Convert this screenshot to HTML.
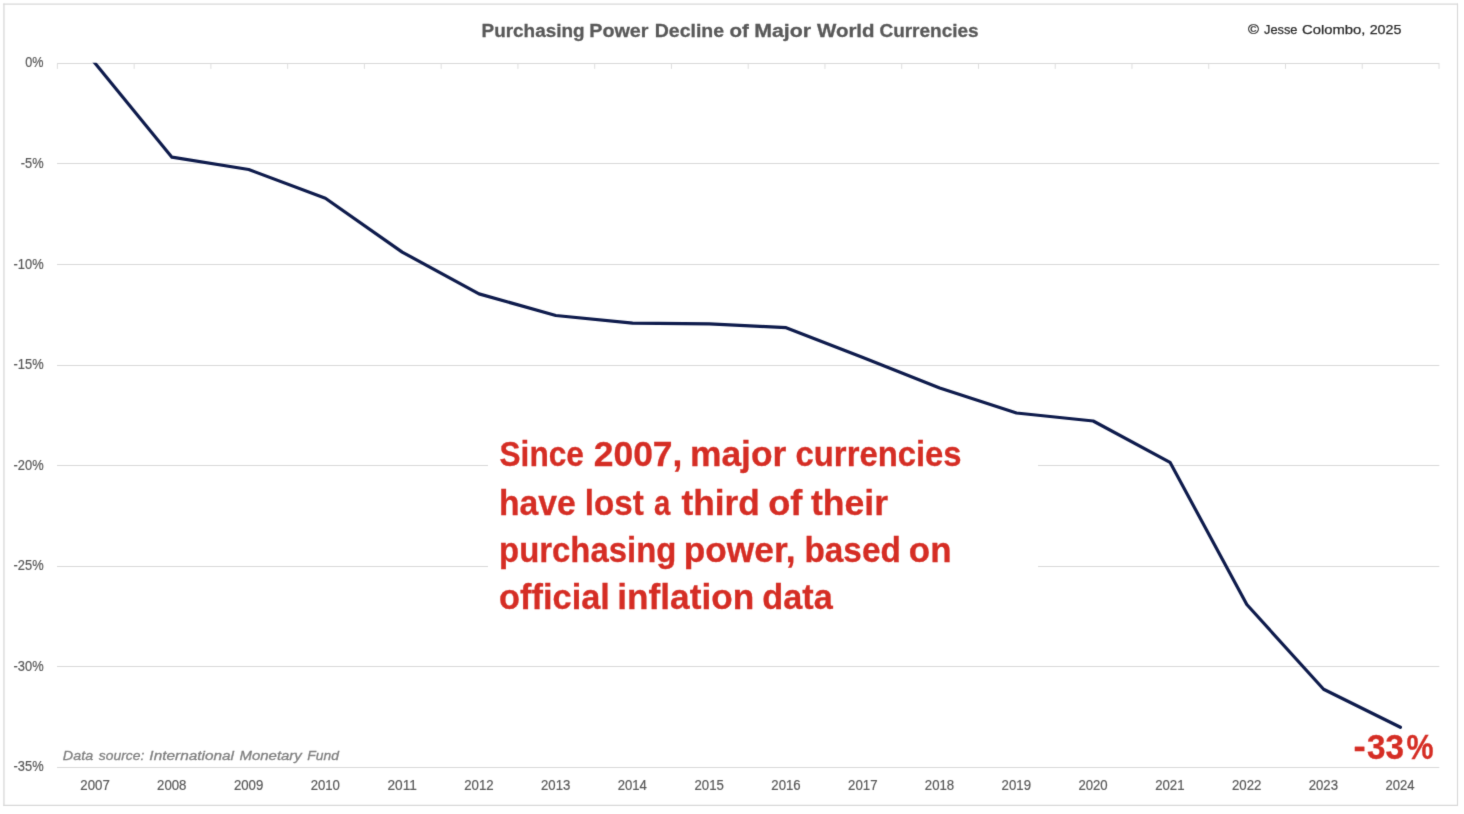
<!DOCTYPE html>
<html lang="en">
<head>
<meta charset="utf-8">
<title>Purchasing Power Decline of Major World Currencies</title>
<style>
html,body{margin:0;padding:0;background:#fff;}
body{width:1464px;height:814px;overflow:hidden;}
svg{display:block;}
text{font-family:"Liberation Sans",sans-serif;}
.ax{fill:#595959;stroke:#595959;stroke-width:0.2px;font-size:13.8px;}
.title{fill:#595959;stroke:#595959;stroke-width:0.3px;font-weight:bold;font-size:19.1px;}
.copy{fill:#2b2b2b;stroke:#2b2b2b;stroke-width:0.25px;font-size:13.1px;}
.src{fill:#7f7f7f;stroke:#7f7f7f;stroke-width:0.3px;font-style:italic;font-size:13.6px;}
.ann{fill:#d52d24;stroke:#d52d24;stroke-width:0.3px;font-weight:bold;font-size:34.5px;}
.end{fill:#d52d24;stroke:#d52d24;stroke-width:0.3px;font-weight:bold;font-size:34.8px;}
</style>
</head>
<body>
<svg width="1464" height="814" viewBox="0 0 1464 814" role="img" aria-label="Purchasing Power Decline of Major World Currencies">
<defs>
<filter id="soft" x="0" y="0" width="1464" height="814" filterUnits="userSpaceOnUse" color-interpolation-filters="sRGB">
<feConvolveMatrix order="3" kernelMatrix="0.0121 0.0858 0.0121 0.0858 0.6084 0.0858 0.0121 0.0858 0.0121" divisor="1" edgeMode="duplicate" preserveAlpha="true"/>
</filter>
</defs>
<g filter="url(#soft)">
<rect x="0" y="0" width="1464" height="814" fill="#ffffff"/>
<g stroke="#d8d8d8" fill="none">
<line x1="3.3" y1="4.05" x2="1458" y2="4.05" stroke-width="1.3"/>
<line x1="3.95" y1="3.4" x2="3.95" y2="805.9" stroke-width="1.3"/>
<line x1="1457.5" y1="3.4" x2="1457.5" y2="805.9" stroke-width="1.1"/>
<line x1="3.3" y1="805.4" x2="1458" y2="805.4" stroke-width="1.1"/>
</g>
<g stroke="#d9d9d9" stroke-width="1" fill="none">
<line x1="57" y1="63.5" x2="1439.3" y2="63.5"/>
<line x1="57" y1="163.5" x2="1439.3" y2="163.5"/>
<line x1="57" y1="264.5" x2="1439.3" y2="264.5"/>
<line x1="57" y1="365.5" x2="1439.3" y2="365.5"/>
<line x1="57" y1="465.5" x2="1439.3" y2="465.5"/>
<line x1="57" y1="566.5" x2="1439.3" y2="566.5"/>
<line x1="57" y1="666.5" x2="1439.3" y2="666.5"/>
<line x1="57" y1="767.5" x2="1439.3" y2="767.5"/>
</g>
<g stroke="#dedede" stroke-width="1" fill="none">
<line x1="57.40" y1="63.5" x2="57.40" y2="68.9"/>
<line x1="134.16" y1="63.5" x2="134.16" y2="68.9"/>
<line x1="210.91" y1="63.5" x2="210.91" y2="68.9"/>
<line x1="287.67" y1="63.5" x2="287.67" y2="68.9"/>
<line x1="364.42" y1="63.5" x2="364.42" y2="68.9"/>
<line x1="441.18" y1="63.5" x2="441.18" y2="68.9"/>
<line x1="517.93" y1="63.5" x2="517.93" y2="68.9"/>
<line x1="594.69" y1="63.5" x2="594.69" y2="68.9"/>
<line x1="671.44" y1="63.5" x2="671.44" y2="68.9"/>
<line x1="748.20" y1="63.5" x2="748.20" y2="68.9"/>
<line x1="824.96" y1="63.5" x2="824.96" y2="68.9"/>
<line x1="901.71" y1="63.5" x2="901.71" y2="68.9"/>
<line x1="978.47" y1="63.5" x2="978.47" y2="68.9"/>
<line x1="1055.22" y1="63.5" x2="1055.22" y2="68.9"/>
<line x1="1131.98" y1="63.5" x2="1131.98" y2="68.9"/>
<line x1="1208.73" y1="63.5" x2="1208.73" y2="68.9"/>
<line x1="1285.49" y1="63.5" x2="1285.49" y2="68.9"/>
<line x1="1362.24" y1="63.5" x2="1362.24" y2="68.9"/>
<line x1="1439.00" y1="63.5" x2="1439.00" y2="68.9"/>
</g>
<clipPath id="plot"><rect x="57" y="62.8" width="1383" height="705"/></clipPath>
<polyline clip-path="url(#plot)" points="91.8,59.3 95.1,63.3 171.9,157.2 248.7,169.5 325.4,198.3 402.2,252.1 479.0,293.9 555.8,315.5 632.6,323.1 709.3,323.9 786.1,327.7 862.9,357.5 939.7,387.9 1016.5,413.0 1093.2,421.0 1170.0,462.3 1246.8,604.5 1323.6,689.3 1400.4,727.3" fill="none" stroke="#0e1b4c" stroke-width="3.2" stroke-linejoin="round" stroke-linecap="round"/>
<rect x="488" y="430" width="550" height="190" fill="#ffffff"/>
<text class="ann" y="465.60"><tspan x="499.54" textLength="84.29" lengthAdjust="spacingAndGlyphs">Since</tspan> <tspan x="593.72" textLength="88.70" lengthAdjust="spacingAndGlyphs">2007,</tspan> <tspan x="689.91" textLength="96.47" lengthAdjust="spacingAndGlyphs">major</tspan> <tspan x="795.57" textLength="166.03" lengthAdjust="spacingAndGlyphs">currencies</tspan></text>
<text class="ann" y="514.70"><tspan x="498.90" textLength="76.80" lengthAdjust="spacingAndGlyphs">have</tspan> <tspan x="584.73" textLength="59.02" lengthAdjust="spacingAndGlyphs">lost</tspan> <tspan x="653.99" textLength="16.27" lengthAdjust="spacingAndGlyphs">a</tspan> <tspan x="681.52" textLength="78.36" lengthAdjust="spacingAndGlyphs">third</tspan> <tspan x="768.23" textLength="34.25" lengthAdjust="spacingAndGlyphs">of</tspan> <tspan x="811.02" textLength="77.07" lengthAdjust="spacingAndGlyphs">their</tspan></text>
<text class="ann" y="561.60"><tspan x="499.08" textLength="177.27" lengthAdjust="spacingAndGlyphs">purchasing</tspan> <tspan x="683.77" textLength="111.70" lengthAdjust="spacingAndGlyphs">power,</tspan> <tspan x="804.45" textLength="96.40" lengthAdjust="spacingAndGlyphs">based</tspan> <tspan x="908.88" textLength="42.74" lengthAdjust="spacingAndGlyphs">on</tspan></text>
<text class="ann" y="609.20"><tspan x="499.11" textLength="110.78" lengthAdjust="spacingAndGlyphs">official</tspan> <tspan x="617.29" textLength="136.94" lengthAdjust="spacingAndGlyphs">inflation</tspan> <tspan x="762.35" textLength="70.39" lengthAdjust="spacingAndGlyphs">data</tspan></text>
<text class="title" y="37.13"><tspan x="481.53" textLength="103.03" lengthAdjust="spacingAndGlyphs">Purchasing</tspan> <tspan x="589.28" textLength="59.22" lengthAdjust="spacingAndGlyphs">Power</tspan> <tspan x="654.80" textLength="69.27" lengthAdjust="spacingAndGlyphs">Decline</tspan> <tspan x="729.50" textLength="19.36" lengthAdjust="spacingAndGlyphs">of</tspan> <tspan x="754.17" textLength="56.95" lengthAdjust="spacingAndGlyphs">Major</tspan> <tspan x="816.98" textLength="57.56" lengthAdjust="spacingAndGlyphs">World</tspan> <tspan x="879.42" textLength="99.26" lengthAdjust="spacingAndGlyphs">Currencies</tspan></text>
<text class="copy" y="34.21"><tspan x="1248.07" textLength="10.96" lengthAdjust="spacingAndGlyphs">©</tspan> <tspan x="1264.10" textLength="33.37" lengthAdjust="spacingAndGlyphs">Jesse</tspan> <tspan x="1302.05" textLength="63.38" lengthAdjust="spacingAndGlyphs">Colombo,</tspan> <tspan x="1369.68" textLength="31.72" lengthAdjust="spacingAndGlyphs">2025</tspan></text>
<text class="src" y="760.46"><tspan x="62.86" textLength="30.23" lengthAdjust="spacingAndGlyphs">Data</tspan> <tspan x="98.87" textLength="45.49" lengthAdjust="spacingAndGlyphs">source:</tspan> <tspan x="149.39" textLength="84.66" lengthAdjust="spacingAndGlyphs">International</tspan> <tspan x="239.44" textLength="62.41" lengthAdjust="spacingAndGlyphs">Monetary</tspan> <tspan x="307.37" textLength="31.56" lengthAdjust="spacingAndGlyphs">Fund</tspan></text>
<text class="ax" y="66.65"><tspan x="25.36" textLength="18.24" lengthAdjust="spacingAndGlyphs">0%</tspan></text>
<text class="ax" y="167.65"><tspan x="20.78" textLength="22.83" lengthAdjust="spacingAndGlyphs">-5%</tspan></text>
<text class="ax" y="268.75"><tspan x="13.58" textLength="30.03" lengthAdjust="spacingAndGlyphs">-10%</tspan></text>
<text class="ax" y="368.65"><tspan x="13.58" textLength="30.03" lengthAdjust="spacingAndGlyphs">-15%</tspan></text>
<text class="ax" y="469.65"><tspan x="13.58" textLength="30.03" lengthAdjust="spacingAndGlyphs">-20%</tspan></text>
<text class="ax" y="569.65"><tspan x="13.58" textLength="30.03" lengthAdjust="spacingAndGlyphs">-25%</tspan></text>
<text class="ax" y="670.75"><tspan x="13.58" textLength="30.03" lengthAdjust="spacingAndGlyphs">-30%</tspan></text>
<text class="ax" y="770.55"><tspan x="13.58" textLength="30.03" lengthAdjust="spacingAndGlyphs">-35%</tspan></text>
<text class="ax" y="789.85"><tspan x="80.33" textLength="29.43" lengthAdjust="spacingAndGlyphs">2007</tspan></text>
<text class="ax" y="789.85"><tspan x="157.11" textLength="29.34" lengthAdjust="spacingAndGlyphs">2008</tspan></text>
<text class="ax" y="789.85"><tspan x="233.88" textLength="29.39" lengthAdjust="spacingAndGlyphs">2009</tspan></text>
<text class="ax" y="789.85"><tspan x="310.66" textLength="29.28" lengthAdjust="spacingAndGlyphs">2010</tspan></text>
<text class="ax" y="789.85"><tspan x="387.43" textLength="29.41" lengthAdjust="spacingAndGlyphs">2011</tspan></text>
<text class="ax" y="789.85"><tspan x="464.20" textLength="29.43" lengthAdjust="spacingAndGlyphs">2012</tspan></text>
<text class="ax" y="789.85"><tspan x="540.98" textLength="29.34" lengthAdjust="spacingAndGlyphs">2013</tspan></text>
<text class="ax" y="789.85"><tspan x="617.76" textLength="29.14" lengthAdjust="spacingAndGlyphs">2014</tspan></text>
<text class="ax" y="789.85"><tspan x="694.53" textLength="29.32" lengthAdjust="spacingAndGlyphs">2015</tspan></text>
<text class="ax" y="789.85"><tspan x="771.30" textLength="29.34" lengthAdjust="spacingAndGlyphs">2016</tspan></text>
<text class="ax" y="789.85"><tspan x="848.07" textLength="29.43" lengthAdjust="spacingAndGlyphs">2017</tspan></text>
<text class="ax" y="789.85"><tspan x="924.85" textLength="29.34" lengthAdjust="spacingAndGlyphs">2018</tspan></text>
<text class="ax" y="789.85"><tspan x="1001.62" textLength="29.39" lengthAdjust="spacingAndGlyphs">2019</tspan></text>
<text class="ax" y="789.85"><tspan x="1078.39" textLength="29.28" lengthAdjust="spacingAndGlyphs">2020</tspan></text>
<text class="ax" y="789.85"><tspan x="1155.16" textLength="29.41" lengthAdjust="spacingAndGlyphs">2021</tspan></text>
<text class="ax" y="789.85"><tspan x="1231.94" textLength="29.43" lengthAdjust="spacingAndGlyphs">2022</tspan></text>
<text class="ax" y="789.85"><tspan x="1308.71" textLength="29.34" lengthAdjust="spacingAndGlyphs">2023</tspan></text>
<text class="ax" y="789.85"><tspan x="1385.49" textLength="29.14" lengthAdjust="spacingAndGlyphs">2024</tspan></text>
<text class="end" y="759.40"><tspan x="1353.62" dy="-1.5" textLength="12.20" lengthAdjust="spacingAndGlyphs">-</tspan><tspan x="1366.89" dy="1.5" textLength="37.07" lengthAdjust="spacingAndGlyphs">33</tspan><tspan x="1406.39" textLength="27.06" lengthAdjust="spacingAndGlyphs">%</tspan></text>
</g>
</svg>
</body>
</html>
